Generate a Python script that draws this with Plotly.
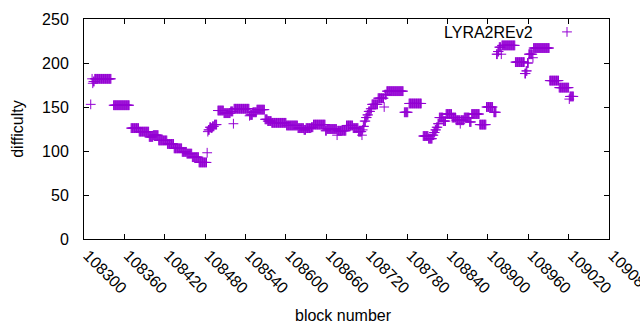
import plotly.graph_objects as go

# Runs of constant difficulty: first block, last block, difficulty
run_start = [108310, 108312, 108313, 108314, 108316, 108344, 108370, 108382, 108397, 108403,
             108411, 108424, 108434, 108446, 108453, 108461, 108471, 108483, 108484, 108485,
             108487, 108489, 108491, 108494, 108499, 108508, 108518, 108522, 108523, 108546,
             108547, 108551, 108557, 108569, 108573, 108579, 108601, 108618, 108627, 108630,
             108638, 108641, 108659, 108661, 108676, 108677, 108690, 108700, 108708, 108713,
             108714, 108715, 108717, 108719, 108721, 108723, 108726, 108728, 108737, 108746,
             108747, 108750, 108776, 108783, 108804, 108812, 108818, 108820, 108822, 108824,
             108826, 108828, 108834, 108838, 108847, 108853, 108859, 108860, 108865, 108873,
             108876, 108888, 108898, 108909, 108913, 108915, 108917, 108920, 108921, 108941,
             108955, 108957, 108959, 108961, 108967, 108968, 108992, 109006, 109021, 109022]
run_end = [108310, 108312, 108313, 108315, 108340, 108367, 108381, 108396, 108402, 108410,
           108423, 108433, 108445, 108452, 108460, 108470, 108482, 108483, 108484, 108486,
           108488, 108490, 108493, 108497, 108507, 108517, 108521, 108522, 108545, 108546,
           108550, 108556, 108568, 108572, 108578, 108600, 108617, 108626, 108629, 108637,
           108640, 108658, 108660, 108675, 108676, 108689, 108699, 108707, 108712, 108713,
           108714, 108716, 108718, 108720, 108722, 108725, 108727, 108736, 108745, 108746,
           108749, 108774, 108781, 108801, 108811, 108817, 108819, 108821, 108823, 108825,
           108827, 108833, 108837, 108846, 108852, 108858, 108859, 108864, 108872, 108875,
           108887, 108897, 108907, 108912, 108914, 108916, 108919, 108920, 108940, 108954,
           108956, 108958, 108960, 108966, 108967, 108991, 109005, 109020, 109021, 109027]
run_value = [153, 182, 177, 179, 182, 152, 126, 122, 116, 118,
             112, 108, 103, 99, 97, 93, 87, 98, 122, 124,
             127, 126, 128, 130, 146, 143, 145, 131, 148, 140,
             141, 144, 147, 136, 134, 132, 129, 126, 124, 126,
             127, 130, 123, 125, 118, 123, 129, 126, 122, 118,
             124, 128, 134, 138, 141, 145, 148, 153, 160, 150,
             164, 168, 144, 154, 117, 114, 118, 121, 124, 127,
             131, 138, 134, 142, 138, 135, 131, 135, 138, 133,
             142, 130, 150, 144, 210, 213, 218, 210, 220, 201,
             188, 191, 200, 210, 206, 217, 180, 172, 159, 162]

series_name = "LYRA2REv2"
x_ticks = [108300, 108360, 108420, 108480, 108540, 108600, 108660, 108720,
           108780, 108840, 108900, 108960, 109020, 109080]
y_ticks = [0, 50, 100, 150, 200, 250]

blocks, diff = [], []
for s, e, v in zip(run_start, run_end, run_value):
    for b in range(s, e + 1):
        blocks.append(b)
        diff.append(v)

COLOR = "#9400d3"
FONT = "Liberation Sans"

fig = go.Figure()
fig.add_trace(go.Scatter(
    x=blocks, y=diff, mode="markers", name="",
    marker=dict(symbol="cross-thin", size=7, color=COLOR,
                line=dict(color=COLOR, width=1)),
    showlegend=True,
))

axis_common = dict(showline=True, linecolor="black", linewidth=1, mirror="ticks",
                   ticks="inside", ticklen=5, tickcolor="black", showgrid=False,
                   zeroline=False, tickfont=dict(family=FONT, size=16, color="black"))

fig.update_xaxes(range=[x_ticks[0], x_ticks[-1]], tickvals=x_ticks,
                 ticktext=[str(t) for t in x_ticks], tickangle=45,
                 ticklabeloverflow="allow", ticklabelshift=4, **axis_common)
fig.update_yaxes(range=[y_ticks[0], y_ticks[-1]], tickvals=y_ticks,
                 ticklabelstandoff=11, **axis_common)

fig.update_layout(
    width=640, height=330,
    margin=dict(l=84, r=31, t=19, b=91, autoexpand=False),
    plot_bgcolor="white", paper_bgcolor="white",
    font=dict(family=FONT, size=16, color="black"),
    legend=dict(x=(547 - 84) / 525, y=(239 - 32) / 220, xanchor="left", yanchor="middle",
                bgcolor="rgba(0,0,0,0)", borderwidth=0,
                font=dict(family=FONT, size=16, color="black")),
    annotations=[
        dict(text=series_name, xref="paper", yref="paper", x=(535 - 84) / 525,
             y=(239 - 32) / 220, xanchor="right", yanchor="middle", showarrow=False,
             font=dict(family=FONT, size=16, color="black")),
        dict(text="block number", xref="paper", yref="paper", x=0.4952, y=-0.3455,
             xanchor="center", yanchor="middle", showarrow=False,
             font=dict(family=FONT, size=16, color="black")),
        dict(text="difficulty", xref="paper", yref="paper", x=-0.128, y=0.5,
             xanchor="center", yanchor="middle", textangle=-90, showarrow=False,
             font=dict(family=FONT, size=16, color="black")),
    ],
)

fig.write_html("out.html", config={"displayModeBar": False},
               post_script="document.body.style.margin='0';")
